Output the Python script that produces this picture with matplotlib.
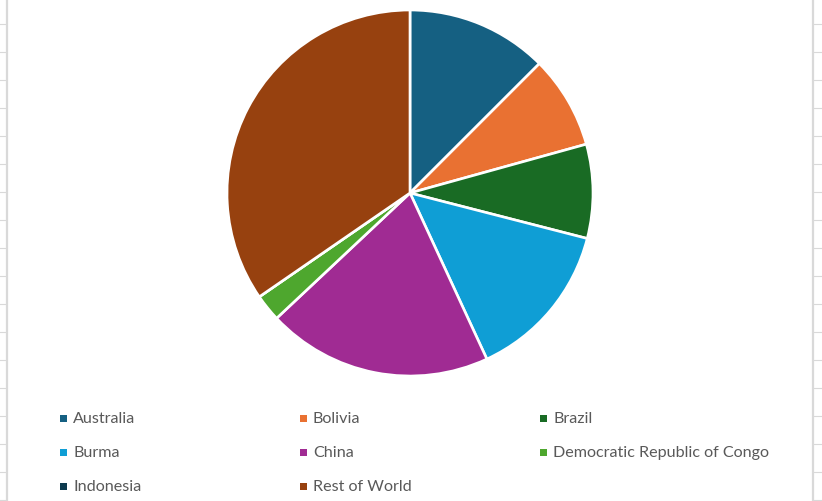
import matplotlib
matplotlib.use("Agg")
import matplotlib.pyplot as plt
from matplotlib.patches import Rectangle
from matplotlib.lines import Line2D

# share of total (Indonesia shows no visible slice)
countries = ["Australia", "Bolivia", "Brazil", "Burma", "China",
             "Democratic Republic of Congo", "Indonesia", "Rest of World"]
shares = [12.5, 8.2, 8.3, 14.1, 19.9, 2.4, 0.0, 34.6]
colors = ["#156082", "#E97132", "#196B24", "#0F9ED5", "#A02B93",
          "#4EA72E", "#0D3A4E", "#97410F"]

W, H = 822, 502
fig = plt.figure(figsize=(W / 100, H / 100), dpi=100)
fig.patch.set_facecolor("white")

# spreadsheet cell lines peeking out on both sides
grid = "#d9d9d9"
fig.add_artist(Line2D([6.5 / W] * 2, [0, 1], color=grid, lw=1.6))
fig.add_artist(Line2D([813 / W] * 2, [0, 1], color=grid, lw=1.6))
y = 25.3
while y < H:
    fy = 1 - y / H
    fig.add_artist(Line2D([0, 6 / W], [fy, fy], color=grid, lw=0.8))
    fig.add_artist(Line2D([813.5 / W, 1], [fy, fy], color=grid, lw=0.8))
    y += 28

# pie: centre (410,194) px, radius 183 px
cx, cy, r = 410, 194, 183
ax = fig.add_axes([(cx - r) / W, (H - cy - r) / H, 2 * r / W, 2 * r / H])
ax.pie(shares, colors=colors, startangle=90, counterclock=False,
       wedgeprops=dict(edgecolor="white", linewidth=1.9))
ax.set_xlim(-1, 1)
ax.set_ylim(-1, 1)
ax.set_aspect("equal")
ax.axis("off")

# legend, three columns
col_x = [60, 300, 540]
row_y = [419, 453, 487]
for i, (name, c) in enumerate(zip(countries, colors)):
    x0 = col_x[i % 3]
    y0 = row_y[i // 3]
    fig.add_artist(Rectangle((x0 / W, (H - y0 - 4) / H), 7 / W, 7 / H,
                             transform=fig.transFigure, color=c, lw=0))
    fig.text((x0 + 13) / W, (H - y0) / H, name, fontsize=11.6, color="#595959",
             va="center", ha="left", family="Lato")

fig.savefig("out.png", dpi=100)
